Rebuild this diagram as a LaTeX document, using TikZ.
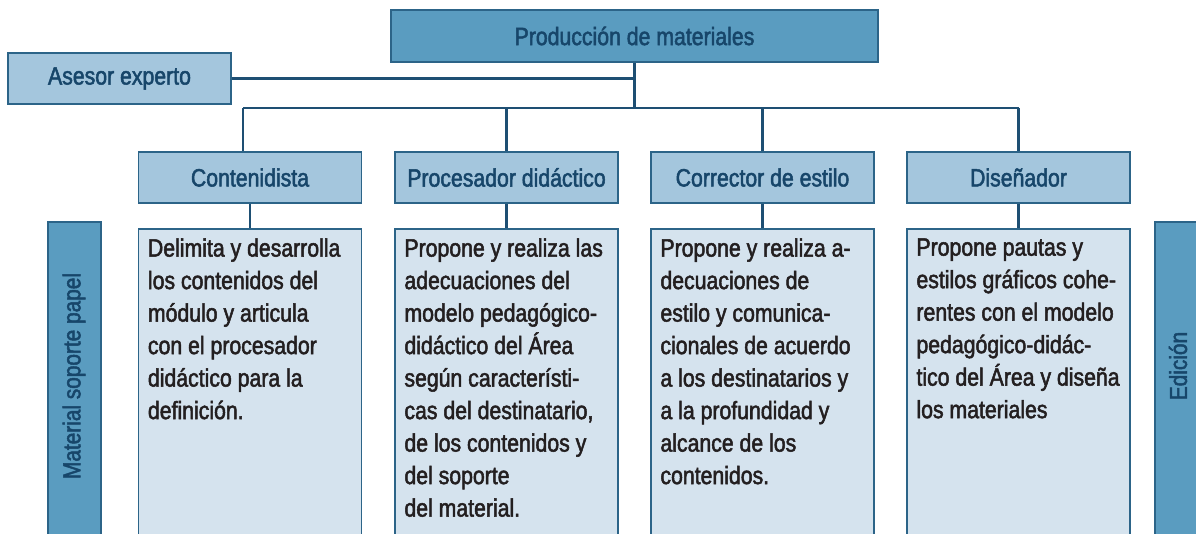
\documentclass[tikz,border=0pt]{standalone}
\usepackage{fontspec}
\setmainfont{Liberation Sans}[FakeStretch=0.85, FakeBold=2]
\usetikzlibrary{calc}
\definecolor{topfill}{HTML}{5A9CC0}
\definecolor{midfill}{HTML}{A4C6DD}
\definecolor{lightfill}{HTML}{D5E3EE}
\definecolor{border}{HTML}{2C6488}
\definecolor{linec}{HTML}{1E4F73}
\definecolor{headtext}{HTML}{17466A}
\definecolor{bodytext}{HTML}{231F20}
\begin{document}
\begin{tikzpicture}[x=1pt,y=-1pt,
  base/.style={draw=border, line width=1.5pt, inner sep=0pt, text=headtext,
    font={\fontsize{25}{30}\selectfont}},
  topbox/.style={base, fill=topfill},
  midbox/.style={base, fill=midfill, minimum width=223pt, minimum height=51pt},
  txtbox/.style={base, fill=lightfill, minimum width=223pt, minimum height=331pt},
  sidebox/.style={base, fill=topfill, minimum width=53pt, minimum height=338pt},
  sidelabel/.style={text=headtext, rotate=90, inner sep=0pt,
    font={\fontsize{24.5}{29}\selectfont}},
  body/.style={anchor=north west, inner sep=0pt, align=left, text=bodytext,
    font={\fontsize{25}{32.5}\selectfont}},
  conn/.style={draw=linec, line width=2.8pt}]
\useasboundingbox (0,0) rectangle (1196,534);
\clip (0,0) rectangle (1196,534);

% top level
\node[topbox, minimum width=487pt, minimum height=52pt] (prod) at (634.5,36) {Producción de materiales};
\node[midbox] (ases) at (119.5,78.5) {Asesor experto};

% role boxes
\node[midbox] (c1) at (250,177.5) {Contenidista};
\node[midbox] (c2) at (506.5,177.5) {Procesador didáctico};
\node[midbox] (c3) at (762.5,177.5) {Corrector de estilo};
\node[midbox] (c4) at (1018.5,177.5) {Diseñador};

% text boxes
\node[txtbox] (t1) at (250,394.5) {};
\node[txtbox] (t2) at (506.5,394.5) {};
\node[txtbox] (t3) at (762.5,394.5) {};
\node[txtbox] (t4) at (1018.5,394.5) {};

% side boxes
\node[sidebox] (sl) at (74.5,391) {};
\node[sidebox] (sr) at (1181.5,391) {};
\node[sidelabel] (sltxt) at (74,376) {Material soporte papel};
\node[sidelabel] (srtxt) at (1178,366) {Edición};

% connectors
\coordinate (busL) at (243,108);
\draw[conn] (prod.south) -- (prod.south |- busL);
\draw[conn] (ases.east) -- (ases.east -| prod.south);
\draw[conn] (busL) -- (c4.north |- busL);
\draw[conn] (busL) -- (busL |- c1.north);
\draw[conn] (c2.north |- busL) -- (c2.north);
\draw[conn] (c3.north |- busL) -- (c3.north);
\draw[conn] (c4.north |- busL) -- (c4.north);
\draw[conn] (c1.south) -- (t1.north);
\draw[conn] (c2.south) -- (t2.north);
\draw[conn] (c3.south) -- (t3.north);
\draw[conn] (c4.south) -- (t4.north);

% body texts
\node[body] (b1) at ($(t1.north west)+(10,10)$) {Delimita y desarrolla\\los contenidos del\\módulo y articula\\con el procesador\\didáctico para la\\definición.};
\node[body] (b2) at ($(t2.north west)+(10,10)$) {Propone y realiza las\\adecuaciones del\\modelo pedagógico-\\didáctico del Área\\según característi-\\cas del destinatario,\\de los contenidos y\\del soporte\\del material.};
\node[body] (b3) at ($(t3.north west)+(10,10)$) {Propone y realiza a-\\decuaciones de\\estilo y comunica-\\cionales de acuerdo\\a los destinatarios y\\a la profundidad y\\alcance de los\\contenidos.};
\node[body] (b4) at ($(t4.north west)+(10,10)$) {Propone pautas y\\estilos gráficos cohe-\\rentes con el modelo\\pedagógico-didác-\\tico del Área y diseña\\los materiales};
\end{tikzpicture}
\end{document}
